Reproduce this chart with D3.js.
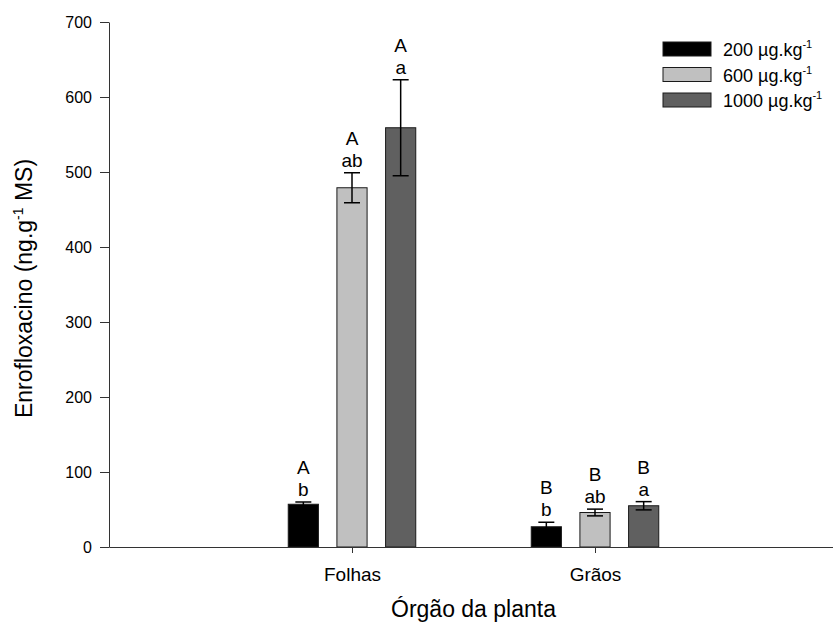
<!DOCTYPE html>
<html>
<head>
<meta charset="utf-8">
<title>Enrofloxacino por órgão da planta</title>
<script src="https://cdnjs.cloudflare.com/ajax/libs/d3/7.8.5/d3.min.js"></script>
<style>
body { margin: 0; background: #fff; }
svg text { font-family: Arial, "Liberation Sans", sans-serif; fill: #000; }
</style>
</head>
<body>
<div id="chart"></div>
<script>
// data
var categories = ["Folhas", "Grãos"];
var doses = ["200", "600", "1000"];
var mean200 = [57, 27];
var err200 = [3, 6];
var mean600 = [479, 46];
var err600 = [20, 4.5];
var mean1000 = [559, 55];
var err1000 = [64, 5.5];
var upper200 = ["A", "B"], upper600 = ["A", "B"], upper1000 = ["A", "B"];
var lower200 = ["b", "b"], lower600 = ["ab", "ab"], lower1000 = ["a", "a"];
var yTicks = [0, 100, 200, 300, 400, 500, 600, 700];

var fills = { "200": "#000000", "600": "#c0c0c0", "1000": "#606060" };

var width = 833, height = 632;
var mLeft = 109, mRight = 838, mTop = 22, mBottom = 547;

var svg = d3.select("#chart").append("svg")
    .attr("width", width)
    .attr("height", height);

var y = d3.scaleLinear().domain([0, 700]).range([mBottom, mTop]);
var x = d3.scalePoint().domain(categories).range([mLeft, mRight]).padding(1);
var xs = d3.scaleBand().domain(doses).range([-73, 73])
    .paddingInner(0.38).paddingOuter(0.19);

// flatten series
var rows = [];
var means = { "200": mean200, "600": mean600, "1000": mean1000 };
var errs = { "200": err200, "600": err600, "1000": err1000 };
var ups = { "200": upper200, "600": upper600, "1000": upper1000 };
var lows = { "200": lower200, "600": lower600, "1000": lower1000 };
doses.forEach(function (d) {
    categories.forEach(function (c, i) {
        rows.push({ dose: d, cat: c, v: means[d][i], e: errs[d][i], up: ups[d][i], low: lows[d][i] });
    });
});

// bars
svg.append("g").selectAll("rect").data(rows).enter().append("rect")
    .attr("x", function (d) { return x(d.cat) + xs(d.dose); })
    .attr("y", function (d) { return y(d.v); })
    .attr("width", xs.bandwidth())
    .attr("height", function (d) { return y(0) - y(d.v); })
    .attr("fill", function (d) { return fills[d.dose]; })
    .attr("stroke", "#1a1a1a")
    .attr("stroke-width", 1);

// error bars
var eb = svg.append("g").attr("stroke", "#000").attr("stroke-width", 1.5);
rows.forEach(function (d) {
    var cx = x(d.cat) + xs(d.dose) + xs.bandwidth() / 2;
    eb.append("line").attr("x1", cx).attr("x2", cx)
        .attr("y1", y(d.v + d.e)).attr("y2", y(d.v - d.e));
    [d.v + d.e, d.v - d.e].forEach(function (val) {
        eb.append("line").attr("x1", cx - 8).attr("x2", cx + 8)
            .attr("y1", y(val)).attr("y2", y(val));
    });
});

// significance letters
var lt = svg.append("g").attr("text-anchor", "middle").style("font-size", "19px");
rows.forEach(function (d) {
    var cx = x(d.cat) + xs(d.dose) + xs.bandwidth() / 2;
    var yb = y(d.v + d.e) - 6;
    lt.append("text").attr("x", cx).attr("y", yb).text(d.low);
    lt.append("text").attr("x", cx).attr("y", yb - 22).text(d.up);
});

// axes
var yAxis = svg.append("g")
    .attr("transform", "translate(" + mLeft + ",0)")
    .call(d3.axisLeft(y).tickValues(yTicks).tickSize(9).tickPadding(8).tickSizeOuter(0));
yAxis.select(".domain").attr("stroke", "#333");
yAxis.selectAll(".tick line").attr("stroke", "#333");
yAxis.selectAll("text").style("font-size", "16px").attr("fill", "#000");

var xAxis = svg.append("g")
    .attr("transform", "translate(0," + mBottom + ")")
    .call(d3.axisBottom(x).tickSize(6).tickPadding(15).tickSizeOuter(0));
xAxis.select(".domain").attr("stroke", "#333");
xAxis.selectAll(".tick line").attr("stroke", "#333");
xAxis.selectAll("text").style("font-size", "19px").attr("fill", "#000");

// axis titles
var yt = svg.append("text")
    .attr("transform", "translate(32," + ((mTop + mBottom) / 2 + 4) + ") rotate(-90)")
    .attr("text-anchor", "middle")
    .style("font-size", "23px");
yt.append("tspan").text("Enrofloxacino (ng.g");
yt.append("tspan").attr("dy", -9).style("font-size", "14px").text("-1");
yt.append("tspan").attr("dy", 9).text(" MS)");

svg.append("text")
    .attr("x", (mLeft + mRight) / 2)
    .attr("y", 617)
    .attr("text-anchor", "middle")
    .style("font-size", "23px")
    .text("Órgão da planta");

// legend
var lg = svg.append("g").attr("transform", "translate(663,42)");
doses.forEach(function (d, i) {
    var g = lg.append("g").attr("transform", "translate(0," + (i * 25.5) + ")");
    g.append("rect").attr("width", 48).attr("height", 14)
        .attr("fill", fills[d]).attr("stroke", "#1a1a1a");
    var t = g.append("text").attr("x", 60).attr("y", 14).style("font-size", "18px");
    t.append("tspan").text(d + " µg.kg");
    t.append("tspan").attr("dy", -8).style("font-size", "11px").text("-1");
});
</script>
</body>
</html>
